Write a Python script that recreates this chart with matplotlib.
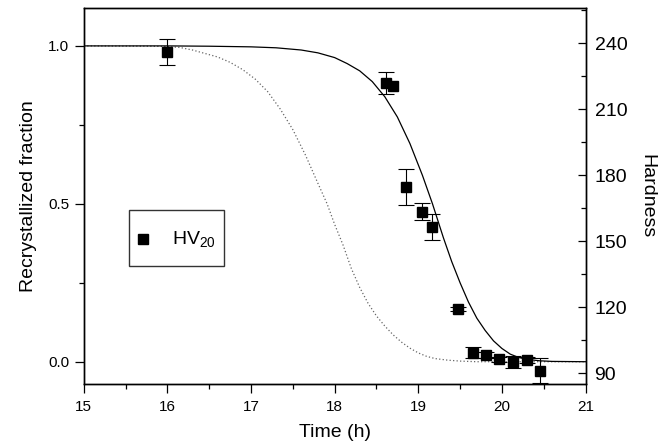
import matplotlib
matplotlib.use("Agg")
import matplotlib.pyplot as plt
import numpy as np
from matplotlib.ticker import MultipleLocator, FormatStrFormatter
from matplotlib.lines import Line2D
from matplotlib.legend_handler import HandlerLine2D

plt.rcParams['font.family'] = ['Liberation Sans', 'DejaVu Sans']
plt.rcParams['mathtext.default'] = 'regular'

# hardness measurements (HV20) with error bars
time_h = [16.0, 18.62, 18.70, 18.85, 19.04, 19.17, 19.48, 19.66, 19.81, 19.97, 20.13, 20.30, 20.46]
hv20 = [236.2, 221.8, 220.7, 174.5, 163.5, 156.4, 119.2, 99.4, 98.3, 96.4, 95.1, 96.0, 91.2]
hv20_err = [5.9, 5.0, 0.0, 8.1, 3.9, 5.9, 1.0, 2.5, 1.2, 1.2, 2.9, 1.2, 5.5]

# fitted curve, solid (recrystallized fraction)
fit_t = [15.0, 16.0, 16.5, 17.0, 17.3, 17.6, 17.8, 18.0, 18.15, 18.3, 18.45, 18.6, 18.75,
         18.9, 19.05, 19.17, 19.3, 19.4, 19.5, 19.6, 19.7, 19.8, 19.9, 20.0, 20.1,
         20.2, 20.3, 20.45, 20.6, 21.0]
fit_f = [1.0, 1.0, 0.999, 0.997, 0.994, 0.987, 0.978, 0.963, 0.944, 0.921, 0.887, 0.839,
         0.775, 0.691, 0.590, 0.500, 0.393, 0.317, 0.250, 0.189, 0.138, 0.099, 0.066,
         0.042, 0.024, 0.0135, 0.0074, 0.003, 0.001, 0.0]

# second curve, dotted
dot_t = [15.0, 15.8, 16.0, 16.15, 16.3, 16.45, 16.6, 16.75, 16.9, 17.05, 17.2, 17.35,
         17.5, 17.65, 17.8, 17.91, 18.0, 18.1, 18.2, 18.3, 18.4, 18.5, 18.6, 18.7,
         18.8, 18.9, 19.0, 19.1, 19.2, 19.35, 19.5, 19.7, 21.0]
dot_f = [1.0, 0.999, 0.998, 0.995, 0.987, 0.976, 0.965, 0.948, 0.925, 0.895, 0.855, 0.800,
         0.735, 0.655, 0.565, 0.500, 0.435, 0.370, 0.295, 0.235, 0.185, 0.145, 0.113,
         0.085, 0.062, 0.043, 0.028, 0.017, 0.010, 0.005, 0.002, 0.0, 0.0]


class LoweredMarker(HandlerLine2D):
    # legend marker sits a bit lower in the tall legend box
    def create_artists(self, legend, orig_handle, xdescent, ydescent, width, height,
                       fontsize, trans):
        arts = super().create_artists(legend, orig_handle, xdescent, ydescent, width,
                                      height, fontsize, trans)
        for a in arts:
            a.set_ydata(np.asarray(a.get_ydata()) - 0.4 * fontsize)
        return arts


fig = plt.figure(figsize=(6.65, 4.47), dpi=100)
ax = fig.add_axes([0.1259, 0.1409, 0.7546, 0.8412])
ax2 = ax.twinx()

ax.plot(dot_t, dot_f, color='0.4', lw=0.9, linestyle=(0, (1, 1.8)))
ax.plot(fit_t, fit_f, color='black', lw=0.9)

t = np.array(time_h)
hv = np.array(hv20)
err = np.array(hv20_err)
has_err = err > 0
ax2.errorbar(t[has_err], hv[has_err], yerr=err[has_err], fmt='none',
             ecolor='black', elinewidth=0.8, capsize=5.5, capthick=0.8)
ax2.plot(t, hv, 's', color='black', ms=6.5)

ax.set_xlim(15, 21)
ax.set_ylim(-0.0706, 1.120)
ax2.set_ylim(85.1, 256.0)

ax.xaxis.set_major_locator(MultipleLocator(1))
ax.xaxis.set_minor_locator(MultipleLocator(0.5))
ax.yaxis.set_major_locator(MultipleLocator(0.5))
ax.yaxis.set_minor_locator(MultipleLocator(0.25))
ax.yaxis.set_major_formatter(FormatStrFormatter('%.1f'))
ax2.yaxis.set_major_locator(MultipleLocator(30))
ax2.yaxis.set_minor_locator(MultipleLocator(15))

ax.tick_params(axis='both', which='major', direction='out', length=6.5, width=0.9,
               labelsize=11, pad=4)
ax.tick_params(axis='both', which='minor', direction='out', length=3.5, width=0.9)
ax.tick_params(axis='x', which='major', pad=5)
ax2.tick_params(axis='y', which='major', direction='in', length=6, width=0.9,
                labelsize=14, pad=6.5)
ax2.tick_params(axis='y', which='minor', direction='in', length=3.5, width=0.9)

for a in (ax, ax2):
    for s in a.spines.values():
        s.set_linewidth(1.0)

ax.set_xlabel('Time (h)', fontsize=14, labelpad=7)
ax.set_ylabel('Recrystallized fraction', fontsize=14, labelpad=8)
ax2.set_ylabel('Hardness', fontsize=14, rotation=270, va='bottom', labelpad=8)

handle = Line2D([], [], marker='s', color='black', ms=6.5, linestyle='none')
leg = ax2.legend([handle], ['HV$_{20}$'], loc='lower left', bbox_to_anchor=(0.09, 0.315),
                 borderaxespad=0, fontsize=14, frameon=True, fancybox=False,
                 handlelength=0.55, handleheight=2.6, handletextpad=1.2, borderpad=0.45,
                 handler_map={handle: LoweredMarker()})
leg.get_frame().set_edgecolor('black')
leg.get_frame().set_linewidth(1.0)

fig.savefig('out.png', dpi=100)
